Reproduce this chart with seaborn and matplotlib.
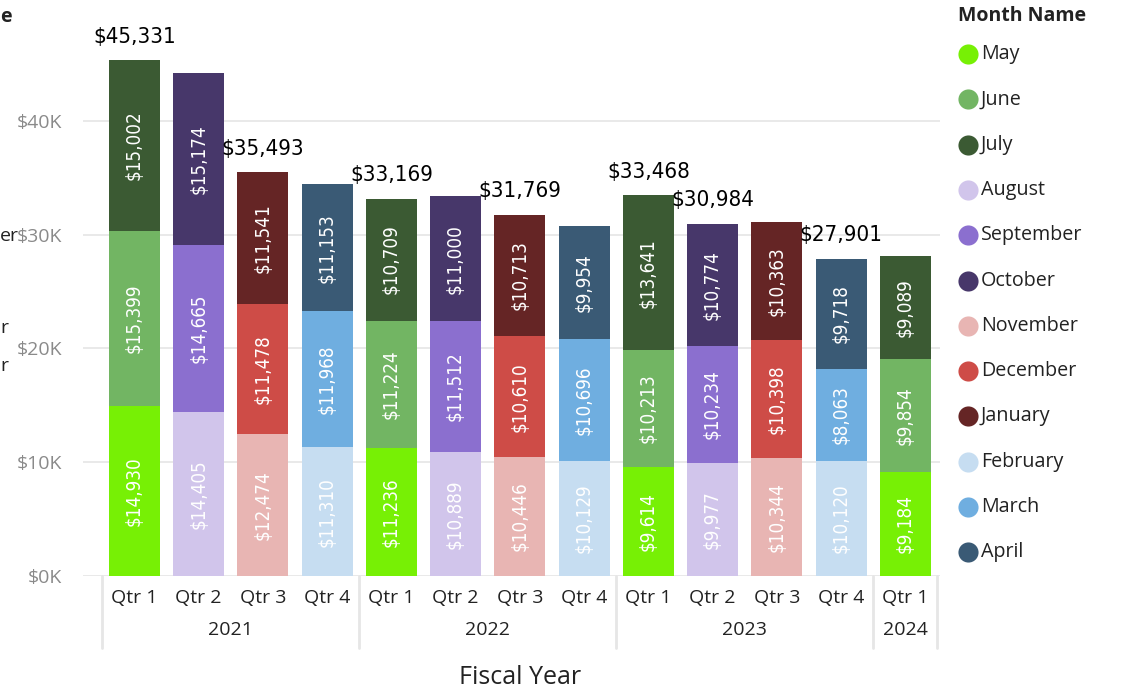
import numpy as np
import pandas as pd
import matplotlib.pyplot as plt
import matplotlib.transforms as mtransforms
import seaborn as sns


# Data
years = ["2021"] * 4 + ["2022"] * 4 + ["2023"] * 4 + ["2024"]
quarters = ["Qtr 1", "Qtr 2", "Qtr 3", "Qtr 4"] * 3 + ["Qtr 1"]
months = ["May", "June", "July", "August", "September", "October",
          "November", "December", "January", "February", "March", "April"]
month_colors = ["#77F005", "#72B563", "#3B5A33", "#D1C5EB", "#8B6FCF", "#47376A",
                "#E8B5B3", "#CE4C47", "#652525", "#C6DDF1", "#6FAEE0", "#3A5A75"]

# sales of the 1st, 2nd and 3rd month of each quarter
first_month = [14930, 14405, 12474, 11310, 11236, 10889, 10446, 10129, 9614, 9977, 10344, 10120, 9184]
second_month = [15399, 14665, 11478, 11968, 11224, 11512, 10610, 10696, 10213, 10234, 10398, 8063, 9854]
third_month = [15002, 15174, 11541, 11153, 10709, 11000, 10713, 9954, 13641, 10774, 10363, 9718, 9089]

# totals that Power BI actually shows (the others were hidden), as printed
shown_totals = [0, 2, 4, 6, 8, 9, 11]
shown_total_labels = ["$45,331", "$35,493", "$33,169", "$31,769", "$33,468", "$30,984", "$27,901"]


def criar_dataframe():
    rows = []
    for i, q in enumerate(quarters):
        k = int(q[-1]) - 1
        for j, vals in enumerate([first_month, second_month, third_month]):
            rows.append({"pos": i, "year": years[i], "quarter": q,
                         "month": months[3 * k + j], "slot": j, "sales": vals[i]})
    return pd.DataFrame(rows)


df = criar_dataframe()

sns.set_theme(style="white")
plt.rcParams['font.family'] = ['Open Sans', 'DejaVu Sans']

W, H = 1144, 697
fig = plt.figure(figsize=(W / 100, H / 100), dpi=100)
ax = fig.add_axes([83 / W, (H - 576) / H, (940 - 83) / W, 576 / H])

palette = dict(zip(months, month_colors))
sns.histplot(data=df, x="pos", weights="sales", hue="month",
             hue_order=months[::-1], multiple="stack", discrete=True,
             shrink=0.795, palette=palette, alpha=1, linewidth=0,
             legend=False, ax=ax)

ax.set_xlim(-0.8, 12.54)
ax.set_ylim(0, 50637)
ax.set_xlabel("")
ax.set_ylabel("")
sns.despine(ax=ax, left=True, bottom=True)

# gridlines
ax.set_yticks([0, 10000, 20000, 30000, 40000])
ax.set_yticklabels(["$0K", "$10K", "$20K", "$30K", "$40K"])
ax.yaxis.grid(True, color="#E9E9E9", linewidth=1.4)
ax.set_axisbelow(True)
ax.tick_params(axis="y", length=0, pad=15, labelsize=14, labelcolor="#8A8A8A")

ax.set_xticks(range(len(quarters)))
ax.set_xticklabels(quarters)
ax.tick_params(axis="x", length=0, pad=9, labelsize=14, labelcolor="#222222")

# segment labels
label_font = dict(family=["DejaVu Sans"], fontstretch="condensed")
df["bottom"] = df.groupby("pos")["sales"].cumsum() - df["sales"]
for _, r in df.iterrows():
    ax.text(r["pos"], r["bottom"] + r["sales"] / 2, f"${r['sales']:,}",
            rotation=90, ha="center", va="center", color="white",
            fontsize=13.5, **label_font)

# totals
totals = df.groupby("pos")["sales"].sum()
for i, lab in zip(shown_totals, shown_total_labels):
    ax.text(i, totals[i] + 1200, lab, ha="center", va="bottom",
            color="black", fontsize=16, **label_font)

# hierarchical x axis: years and separators
trans = mtransforms.blended_transform_factory(ax.transData, ax.transAxes)
year_names = list(dict.fromkeys(years))
edges = [-0.5]
for y in year_names:
    idx = [i for i, yy in enumerate(years) if yy == y]
    ax.text(np.mean(idx), -54 / 576, y, transform=trans, ha="center", va="center",
            fontsize=14, color="#222222")
    edges.append(idx[-1] + 0.5)
for e in edges:
    ax.plot([e, e], [0, -72 / 576], transform=trans, color="#E6E6E6",
            linewidth=2, clip_on=False)

fig.text(520 / W, 1 - 678 / H, "Fiscal Year", ha="center", va="center",
         fontsize=18, color="#222222")

# legend
fig.text(958 / W, 1 - 16 / H, "Month Name", ha="left", va="center",
         fontsize=14, fontweight="bold", color="#222222")
lax = fig.add_axes([0.82, 0, 0.18, 1])
lax.set_xlim(0.82 * W, W)
lax.set_ylim(H, 0)
lax.axis("off")
for k, (m, c) in enumerate(zip(months, month_colors)):
    yk = 54 + k * 45.3
    lax.scatter([968], [yk], s=210, color=c, linewidth=0)
    lax.text(981, yk, m, ha="left", va="center", fontsize=14.2, color="#222222")

# fragments of a neighbouring visual, clipped at the left edge
for txt, yy, bold in [("e", 17, True), ("er", 236, False), ("r", 328, False), ("r", 366, False)]:
    fig.text(0.0, 1 - yy / H, txt, ha="left", va="center", fontsize=14,
             fontweight="bold" if bold else "normal", color="#222222")

fig.savefig("out.png", dpi=100)
